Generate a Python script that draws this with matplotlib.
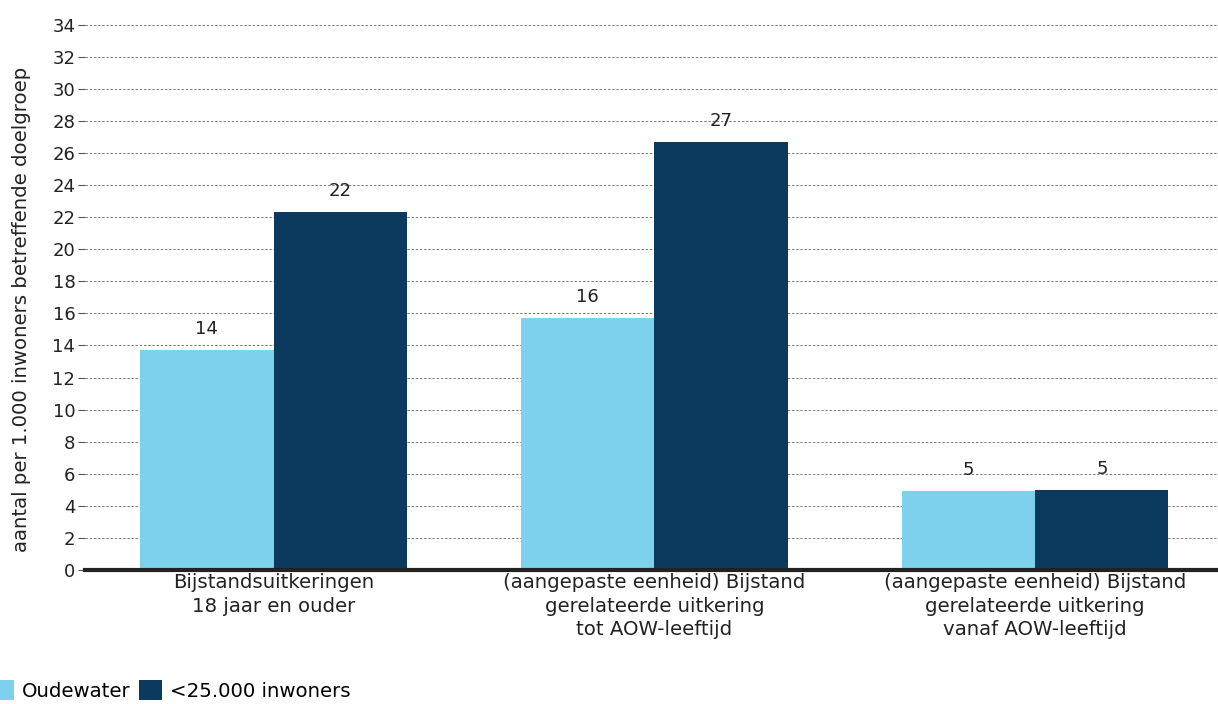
import matplotlib.pyplot as plt
import numpy as np

# Categorieën en waarden
categorieen = ['Bijstandsuitkeringen\n18 jaar en ouder',
               '(aangepaste eenheid) Bijstand\ngerelateerde uitkering\ntot AOW-leeftijd',
               '(aangepaste eenheid) Bijstand\ngerelateerde uitkering\nvanaf AOW-leeftijd']
oudewater = [13.7, 15.7, 4.9]
klein = [22.3, 26.7, 5.0]
labels_oudewater = ['14', '16', '5']
labels_klein = ['22', '27', '5']
yticks = list(range(0, 35, 2))

kleur_licht = '#7ED1ED'
kleur_donker = '#0B3A5E'
fs = 13
fs_txt = 14.2

fig = plt.figure(figsize=(12.18, 7.04), dpi=100)
ax = fig.add_axes([0.0698, 0.1903, 0.9302, 0.777])

x = np.arange(len(categorieen))
ancho = 0.35

b1 = ax.bar(x - ancho / 2, oudewater, width=ancho, color=kleur_licht, label='Oudewater', zorder=3)
b2 = ax.bar(x + ancho / 2, klein, width=ancho, color=kleur_donker, label='<25.000 inwoners', zorder=3)

for barras, etiquetas in [(b1, labels_oudewater), (b2, labels_klein)]:
    for b, t in zip(barras, etiquetas):
        ax.text(b.get_x() + b.get_width() / 2, b.get_height() + 0.75, t,
                ha='center', va='bottom', fontsize=fs, color='#222222', zorder=4)

ax.set_xlim(-0.495, 2.48)
ax.set_ylim(0, 34.1)
ax.set_yticks(yticks)
ax.tick_params(axis='y', length=5, width=0.8, color='#555555', labelsize=fs, pad=2,
               labelcolor='#222222')
ax.set_xticks(x)
ax.set_xticklabels(categorieen, fontsize=fs_txt, color='#222222', linespacing=1.32)
ax.tick_params(axis='x', length=0, pad=2)

ax.grid(axis='y', linestyle=(0, (2.5, 1.8)), color='#7a7a7a', linewidth=0.7, zorder=0)
for s in ['top', 'right', 'left']:
    ax.spines[s].set_visible(False)
ax.spines['bottom'].set_linewidth(3)
ax.spines['bottom'].set_color('#222222')
ax.spines['bottom'].set_zorder(5)

fig.text(0.018, 0.56, 'aantal per 1.000 inwoners betreffende doelgroep', rotation=90,
         ha='center', va='center', fontsize=fs_txt, color='#222222')

fig.legend(loc='lower left', bbox_to_anchor=(-0.017, -0.012), ncol=2, frameon=False,
           fontsize=fs_txt, handlelength=1.15, handleheight=1.25, handletextpad=0.4,
           columnspacing=0.45, borderaxespad=0.2)

plt.savefig('out.png', dpi=100)
